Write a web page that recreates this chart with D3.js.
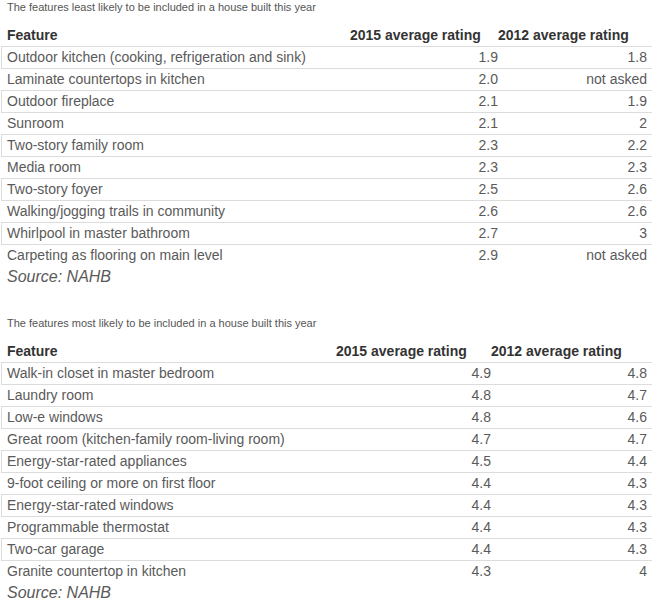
<!DOCTYPE html>
<html>
<head>
<meta charset="utf-8">
<script src="https://cdn.jsdelivr.net/npm/d3@7"></script>
<style>
  body { margin: 0; background: #fff; }
  svg { font-family: "Liberation Sans", Arial, sans-serif; }
</style>
</head>
<body>
<script>
// Datos de la tabla de arriba (menos probables)
const leastTitle = "The features least likely to be included in a house built this year";
const leastFeatures = [
    "Outdoor kitchen (cooking, refrigeration and sink)",
    "Laminate countertops in kitchen",
    "Outdoor fireplace",
    "Sunroom",
    "Two-story family room",
    "Media room",
    "Two-story foyer",
    "Walking/jogging trails in community",
    "Whirlpool in master bathroom",
    "Carpeting as flooring on main level"
];
const least2015 = [1.9, 2.0, 2.1, 2.1, 2.3, 2.3, 2.5, 2.6, 2.7, 2.9];
const least2012 = [1.8, null, 1.9, 2, 2.2, 2.3, 2.6, 2.6, 3, null];

// Datos de la tabla de abajo (más probables)
const mostTitle = "The features most likely to be included in a house built this year";
const mostFeatures = [
    "Walk-in closet in master bedroom",
    "Laundry room",
    "Low-e windows",
    "Great room (kitchen-family room-living room)",
    "Energy-star-rated appliances",
    "9-foot ceiling or more on first floor",
    "Energy-star-rated windows",
    "Programmable thermostat",
    "Two-car garage",
    "Granite countertop in kitchen"
];
const most2015 = [4.9, 4.8, 4.8, 4.7, 4.5, 4.4, 4.4, 4.4, 4.4, 4.3];
const most2012 = [4.8, 4.7, 4.6, 4.7, 4.4, 4.3, 4.3, 4.3, 4.3, 4];

const headers = ["Feature", "2015 average rating", "2012 average rating"];
const source = "Source: NAHB";

const width = 652, height = 603;
const rowH = 22;
const bodyColor = "#5a5a5a";

const svg = d3.select("body").append("svg")
    .attr("width", width)
    .attr("height", height);

// Dibuja una tabla completa a partir de sus arrays
function drawTable(top, title, features, v2015, v2012, colLeft) {
    const g = svg.append("g").attr("transform", `translate(0, ${top})`);

    const rows = features.map((f, i) => ({ feature: f, a: v2015[i], b: v2012[i] }));

    const y = d3.scaleBand()
        .domain(d3.range(rows.length))
        .range([46, 46 + rows.length * rowH]);

    g.append("text")
        .text(title)
        .attr("x", 7)
        .attr("y", 11)
        .style("font-size", "11px")
        .attr("fill", "#555");

    // encabezados
    g.selectAll(".head")
        .data(headers)
        .enter()
        .append("text")
        .attr("class", "head")
        .text(d => d)
        .attr("x", (d, i) => i === 0 ? 7 : colLeft[i - 1])
        .attr("y", 40)
        .style("font-size", "14px")
        .style("font-weight", "bold")
        .attr("fill", "#333");

    // filas con borde (una sí, una no)
    g.selectAll(".band")
        .data(rows.filter((d, i) => i % 2 === 0))
        .enter()
        .append("rect")
        .attr("class", "band")
        .attr("x", 1.5)
        .attr("y", d => y(rows.indexOf(d)) + 0.5)
        .attr("width", width + 10)
        .attr("height", rowH)
        .attr("fill", "none")
        .attr("stroke", "#dcdcdc");

    const row = g.selectAll(".row")
        .data(rows)
        .enter()
        .append("g")
        .attr("class", "row")
        .attr("transform", (d, i) => `translate(0, ${y(i) + 16})`);

    row.append("text")
        .text(d => d.feature)
        .attr("x", 7)
        .style("font-size", "14px")
        .attr("fill", bodyColor);

    row.append("text")
        .text(d => d.a.toFixed(1))
        .attr("x", colLeft[1])
        .attr("text-anchor", "end")
        .style("font-size", "14px")
        .attr("fill", bodyColor);

    row.append("text")
        .text(d => d.b === null ? "not asked" : String(d.b))
        .attr("x", 647)
        .attr("text-anchor", "end")
        .style("font-size", "14px")
        .attr("fill", bodyColor);

    g.append("text")
        .text(source)
        .attr("x", 7)
        .attr("y", 46 + rows.length * rowH + 16)
        .style("font-size", "16px")
        .style("font-style", "italic")
        .attr("fill", bodyColor);
}

drawTable(0, leastTitle, leastFeatures, least2015, least2012, [350, 498]);
drawTable(316, mostTitle, mostFeatures, most2015, most2012, [336, 491]);
</script>
</body>
</html>
